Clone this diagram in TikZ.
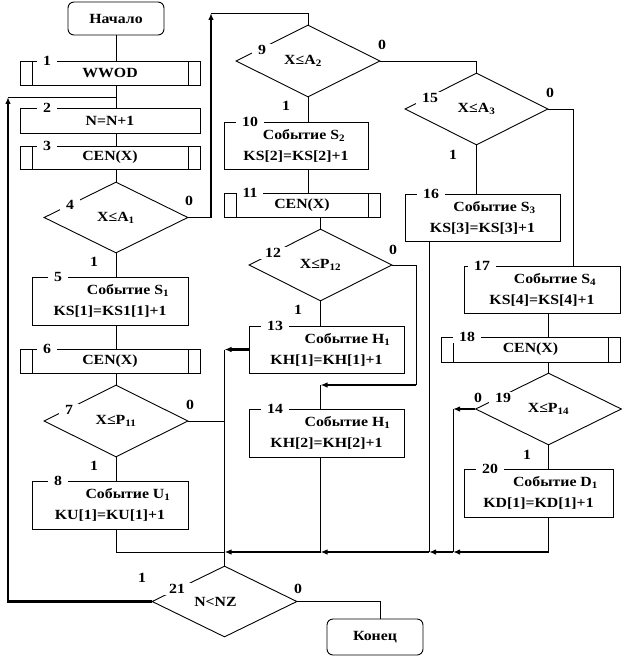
\documentclass[tikz,border=0pt]{standalone}
\usepackage{fontspec}
\setmainfont{Liberation Serif}[FakeStretch=1.13]
\usetikzlibrary{shapes.geometric,arrows.meta}
\begin{document}
\begin{tikzpicture}[x=1bp,y=-1bp,
  font=\fontsize{14bp}{21bp}\selectfont\bfseries,
  every node/.style={inner sep=0pt},
  base/.style={draw, line width=0.9pt, align=center},
  proc/.style={base, rectangle},
  subr/.style={base, rectangle, path picture={
     \draw[line width=0.9pt] ([xshift=12bp]path picture bounding box.north west) -- ([xshift=12bp]path picture bounding box.south west)
       ([xshift=-12bp]path picture bounding box.north east) -- ([xshift=-12bp]path picture bounding box.south east);}},
  term/.style={base, rounded corners=6bp},
  dec/.style={base, diamond, aspect=2},
  num/.style={fill=white, inner xsep=6bp, inner ysep=1bp},
  tag/.style={inner sep=1bp},
  flow/.style={line width=0.9pt},
  back/.style={line width=2.2pt},
  arr/.style={back, -{Latex[length=7bp,width=5.5bp]}},
]
\useasboundingbox (0,0) rectangle (624,657);

% ---- nodes
\node[term, minimum width=96bp, minimum height=33bp] (start) at (116,18.5) {Начало};
\node[subr, minimum width=180bp, minimum height=24bp] (b1) at (110,73) {WWOD};
\node[proc, minimum width=180bp, minimum height=25bp] (b2) at (110,120.5) {N=N+1};
\node[subr, minimum width=180bp, minimum height=23bp] (b3) at (110,157.5) {CEN(X)};
\node[dec, minimum width=144bp, minimum height=71bp] (d4) at (116,217.5) {X≤A\textsubscript{1}};
\node[proc, minimum width=156bp, minimum height=48bp] (b5) at (110,301) {\hspace*{36bp}Событие S\textsubscript{1}\\KS[1]=KS1[1]+1};
\node[subr, minimum width=180bp, minimum height=24bp] (b6) at (110,361) {CEN(X)};
\node[dec, minimum width=144bp, minimum height=72bp] (d7) at (116,421) {X≤P\textsubscript{11}};
\node[proc, minimum width=156bp, minimum height=48bp] (b8) at (110,505) {\hspace*{36bp}Событие U\textsubscript{1}\\KU[1]=KU[1]+1};

\node[dec, minimum width=144bp, minimum height=72bp] (d9) at (308,61) {X≤A\textsubscript{2}\hspace*{10bp}};
\node[proc, minimum width=144bp, minimum height=47bp] (b10) at (296,145.5) {\hspace*{16bp}Событие S\textsubscript{2}\\KS[2]=KS[2]+1};
\node[subr, minimum width=156bp, minimum height=24bp] (b11) at (302,205) {CEN(X)};
\node[dec, minimum width=143bp, minimum height=72bp] (d12) at (320.5,265) {X≤P\textsubscript{12}};
\node[proc, minimum width=155bp, minimum height=47bp] (b13) at (326.5,349.5) {\hspace*{42bp}Событие H\textsubscript{1}\\KH[1]=KH[1]+1};
\node[proc, minimum width=155bp, minimum height=48bp] (b14) at (326.5,433) {\hspace*{42bp}Событие H\textsubscript{1}\\KH[2]=KH[2]+1};

\node[dec, minimum width=143bp, minimum height=72bp] (d15) at (476.5,109) {X≤A\textsubscript{3}};
\node[proc, minimum width=155bp, minimum height=47bp] (b16) at (482.5,217.5) {\hspace*{24bp}Событие S\textsubscript{3}\\KS[3]=KS[3]+1};
\node[proc, minimum width=156bp, minimum height=47bp] (b17) at (542,289.5) {\hspace*{26bp}Событие S\textsubscript{4}\\KS[4]=KS[4]+1};
\node[subr, minimum width=179bp, minimum height=25bp] (b18) at (530.5,349.5) {CEN(X)};
\node[dec, minimum width=146bp, minimum height=72bp] (d19) at (548.5,409) {X≤P\textsubscript{14}};
\node[proc, minimum width=149bp, minimum height=48bp] (b20) at (538.5,493) {\hspace*{34bp}Событие D\textsubscript{1}\\KD[1]=KD[1]+1};

\node[dec, minimum width=145bp, minimum height=71bp] (d21) at (224.5,601.5) {N<NZ\hspace*{18bp}};
\node[term, minimum width=96bp, minimum height=36bp] (fin) at (375,637) {Конец};

% ---- helper coordinates
\coordinate (sp) at (116,0);
\coordinate (loopin) at (116,97);
\coordinate (cy) at (0,552);
\coordinate (vx) at (224.5,0);
\coordinate (lx) at (8,0);
\coordinate (tx) at (211,0);
\coordinate (ty) at (0,13);
\coordinate (rx12) at (416,0);
\coordinate (y14) at (0,385);
\coordinate (rx15) at (573,0);
\coordinate (x16) at (429,0);
\coordinate (x19) at (453,0);
\coordinate (ex) at (380,0);

% ---- main column
\draw[flow] (start.south) -- (sp |- b1.north);
\draw[flow] (sp |- b1.south) -- (sp |- b2.north);
\draw[flow] (sp |- b2.south) -- (sp |- b3.north);
\draw[flow] (sp |- b3.south) -- (d4.north);
\draw[flow] (d4.south) -- (sp |- b5.north);
\draw[flow] (sp |- b5.south) -- (sp |- b6.north);
\draw[flow] (sp |- b6.south) -- (d7.north);
\draw[flow] (d7.south) -- (sp |- b8.north);
\draw[flow] (sp |- b8.south) -- (sp |- cy) -- (vx |- cy);
\draw[flow] (d7.east) -- (vx |- d7.east);
\draw[flow] (vx |- b13.west) -- (d21.north);
\draw[arr] (b13.west) -- (vx |- b13.west);

% ---- loop back to start
\draw[arr] (d21.west) -- (lx |- d21.west) -- (lx |- loopin);
\draw[flow] (lx |- loopin) -- (loopin);

% ---- branch of 4
\draw[flow] (d4.east) -- (tx |- d4.east);
\draw[arr] (tx |- d4.east) -- (tx |- ty);
\draw[flow] (tx |- ty) -- (d9.north |- ty) -- (d9.north);

% ---- second column
\draw[flow] (d9.east) -- (d15.north |- d9.east) -- (d15.north);
\draw[flow] (d9.south) -- (d9.south |- b10.north);
\draw[flow] (d9.south |- b10.south) -- (d9.south |- b11.north);
\draw[flow] (d12.north |- b11.south) -- (d12.north);
\draw[flow] (d12.south) -- (d12.south |- b13.north);
\draw[flow] (d12.east) -- (rx12 |- d12.east) -- (rx12 |- y14);
\draw[arr] (rx12 |- y14) -- (d12.south |- y14);
\draw[flow] (d12.south |- y14) -- (d12.south |- b14.north);
\draw[flow] (d12.south |- b14.south) -- (d12.south |- cy);

% ---- third column
\draw[flow] (d15.south) -- (d15.south |- b16.north);
\draw[flow] (d15.east) -- (rx15 |- d15.east) -- (rx15 |- b17.north);
\draw[flow] (x16 |- b16.south) -- (x16 |- cy);
\draw[flow] (d19.north |- b17.south) -- (d19.north |- b18.north);
\draw[flow] (d19.north |- b18.south) -- (d19.north);
\draw[flow] (d19.south) -- (d19.south |- b20.north);
\draw[arr] (d19.west) -- (x19 |- d19.west);
\draw[flow] (x19 |- d19.west) -- (x19 |- cy);
\draw[flow] (d19.south |- b20.south) -- (d19.south |- cy);

% ---- collector
\draw[arr] (d19.south |- cy) -- (x19 |- cy);
\draw[arr] (x19 |- cy) -- (x16 |- cy);
\draw[arr] (x16 |- cy) -- (d12.south |- cy);
\draw[arr] (d12.south |- cy) -- (vx |- cy);

% ---- end
\draw[flow] (d21.east) -- (ex |- d21.east) -- (ex |- fin.north);

% ---- block numbers
\node[num] (n1) at (47,61) {1};
\node[num] (n2) at (47,108) {2};
\node[num] (n3) at (47,146) {3};
\node[num] (n4) at (70,205) {4};
\node[num] (n5) at (58,277) {5};
\node[num] (n6) at (47,349) {6};
\node[num] (n7) at (69,410) {7};
\node[num] (n8) at (58,481) {8};
\node[num] (n9) at (262,50) {9};
\node[num] (n10) at (250,122) {10};
\node[num] (n11) at (250,193) {11};
\node[num] (n12) at (273,253) {12};
\node[num] (n13) at (275,326) {13};
\node[num] (n14) at (275,409) {14};
\node[num] (n15) at (430,98) {15};
\node[num] (n16) at (431,194) {16};
\node[num] (n17) at (482,266) {17};
\node[num] (n18) at (467,337) {18};
\node[num] (n19) at (503,398) {19};
\node[num] (n20) at (490,469) {20};
\node[num] (n21) at (177,589) {21};

% ---- branch values
\node[tag] (o4) at (189,201) {0};
\node[tag] (i4) at (94,262) {1};
\node[tag] (o7) at (190,405) {0};
\node[tag] (i7) at (94,466) {1};
\node[tag] (o9) at (382,45) {0};
\node[tag] (i9) at (286,106) {1};
\node[tag] (o12) at (393,250) {0};
\node[tag] (i12) at (298,310) {1};
\node[tag] (o15) at (550,93) {0};
\node[tag] (i15) at (453,155) {1};
\node[tag] (o19) at (478,398) {0};
\node[tag] (i19) at (527,455) {1};
\node[tag] (i21) at (142,578) {1};
\node[tag] (o21) at (298,589) {0};
\end{tikzpicture}
\end{document}
